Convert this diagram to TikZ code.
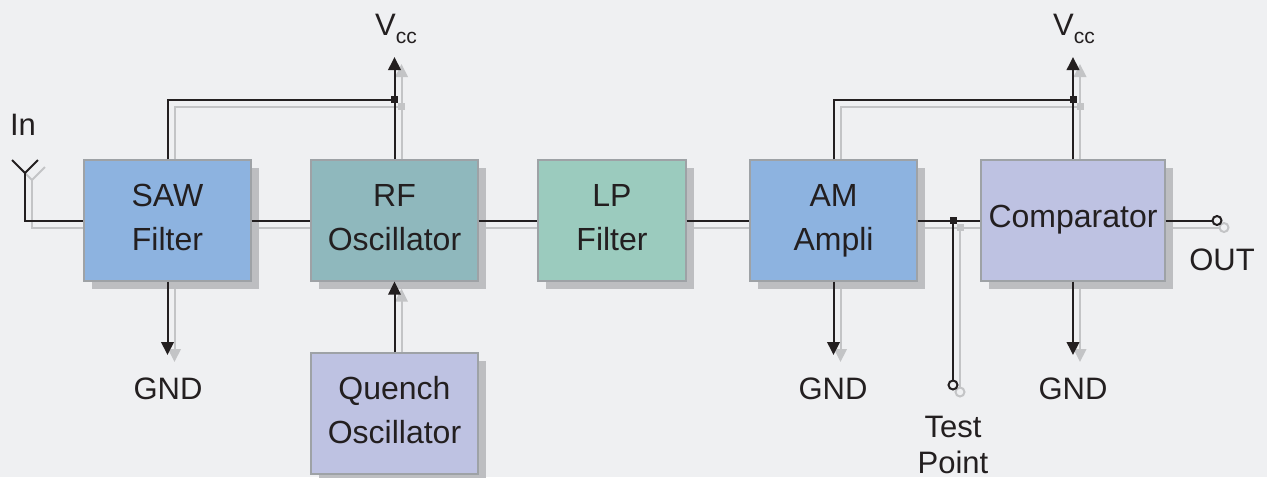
\documentclass[tikz,border=0pt]{standalone}
\usepackage{fontspec}
\setmainfont{Liberation Sans}
\usetikzlibrary{arrows.meta,shadows,backgrounds}
\definecolor{bg}{HTML}{EFF0F2}
\definecolor{sawblue}{HTML}{8DB3E0}
\definecolor{rfteal}{HTML}{8FB8BD}
\definecolor{lpgreen}{HTML}{9BCBBE}
\definecolor{lavender}{HTML}{BEC2E2}
\definecolor{boxedge}{HTML}{9EA2A6}
\definecolor{boxshadow}{HTML}{BDBEC1}
\definecolor{wireblack}{HTML}{231F20}
\definecolor{wiregray}{HTML}{C3C4C6}
\tikzset{
  blk/.style={draw=boxedge, line width=1.2pt, inner sep=0pt, minimum height=121pt,
    drop shadow={shadow xshift=8pt, shadow yshift=-8pt, fill=boxshadow, opacity=1}},
  btxt/.style={anchor=base, inner sep=0pt, text=wireblack, font=\fontsize{32}{43}\selectfont},
  lbl/.style={anchor=base, inner sep=0pt, text=wireblack, font=\fontsize{31}{36}\selectfont},
}
\newcommand{\wires}[1]{%
  \begin{scope}[line width=2pt, draw=#1, fill=#1,
      tip/.style={-{Triangle[width=12.5pt,length=13pt]}},
      jsq/.style={fill=#1, draw=none, minimum size=7pt, inner sep=0pt, rectangle},
      term/.style={circle, draw=#1, fill=bg, line width=2pt, minimum size=9pt, inner sep=0pt}]
    % antenna
    \draw (antl) -- (antj) -- (antr);
    \draw (antj) -- (antj |- saw.west) -- (saw.west);
    % main chain
    \draw (saw.east) -- (rf.west);
    \draw (rf.east) -- (lp.west);
    \draw (lp.east) -- (am.west);
    \draw (am.east) -- (comp.west);
    % supply lines
    \draw (saw.north) -- (saw.north |- j1) -- (j1);
    \draw[tip] (rf.north) -- (vcctipa);
    \node[jsq] at (j1) {};
    \draw (am.north) -- (am.north |- j2) -- (j2);
    \draw[tip] (comp.north) -- (vcctipb);
    \node[jsq] at (j2) {};
    % ground lines
    \draw[tip] (saw.south) -- (gndtipa);
    \draw[tip] (am.south) -- (gndtipb);
    \draw[tip] (comp.south) -- (gndtipc);
    % quench
    \draw[tip] (quench.north) -- (rf.south);
    % test point
    \node[term] (tpc) at (tpcpos) {};
    \draw (tpj) -- (tpc);
    \node[jsq] at (tpj) {};
    % out
    \node[term] (outc) at (outpos) {};
    \draw (comp.east) -- (outc);
  \end{scope}}
\begin{document}
\begin{tikzpicture}[x=1pt,y=-1pt]
\useasboundingbox (0,0) rectangle (1267,477);
% blocks
\node[blk, fill=sawblue, minimum width=167pt] (saw) at (167.5,220.5) {};
\node[blk, fill=rfteal, minimum width=167pt] (rf) at (394.5,220.5) {};
\node[blk, fill=lpgreen, minimum width=148pt] (lp) at (612,220.5) {};
\node[blk, fill=sawblue, minimum width=167pt] (am) at (833.5,220.5) {};
\node[blk, fill=lavender, minimum width=184pt] (comp) at (1073,220.5) {};
\node[blk, fill=lavender, minimum width=167pt] (quench) at (394.5,413.5) {};
% block texts
\node[btxt] (sawa) at ([yshift=13.8pt]saw.center) {SAW};
\node[btxt] (sawb) at ([yshift=-30.2pt]saw.center) {Filter};
\node[btxt] (rfa) at ([yshift=13.8pt]rf.center) {RF};
\node[btxt] (rfb) at ([yshift=-30.2pt]rf.center) {Oscillator};
\node[btxt] (lpa) at ([yshift=13.8pt]lp.center) {LP};
\node[btxt] (lpb) at ([yshift=-30.2pt]lp.center) {Filter};
\node[btxt] (ama) at ([yshift=13.8pt]am.center) {AM};
\node[btxt] (amb) at ([yshift=-30.2pt]am.center) {Ampli};
\node[btxt] (compa) at ([yshift=-6.8pt]comp.center) {Comparator};
\node[btxt] (qa) at ([yshift=13.8pt]quench.center) {Quench};
\node[btxt] (qb) at ([yshift=-30.2pt]quench.center) {Oscillator};
% coordinates
\coordinate (antl) at (12,160);
\coordinate (antr) at (38,160);
\coordinate (antj) at (25,173);
\coordinate (j1) at (394.5,99.5);
\coordinate (vcctipa) at (394.5,57);
\coordinate (j2) at (1073,99.5);
\coordinate (vcctipb) at (1073,57);
\coordinate (gndtipa) at (167.5,355);
\coordinate (gndtipb) at (833.5,355);
\coordinate (gndtipc) at (1073,355);
\coordinate (tpj) at (953,220.5);
\coordinate (tpcpos) at (953,385);
\coordinate (outpos) at (1217,220.5);
% background and shadow wires
\begin{scope}[on background layer]
  \fill[bg] (0,0) rectangle (1267,477);
  \begin{scope}[transform canvas={shift={(7pt,-7pt)}}]
    \wires{wiregray}
  \end{scope}
\end{scope}
% black wires
\wires{wireblack}
% labels
\node[lbl] (inlbl) at (23,135) {In};
\node[lbl] (vcca) at (396,35) {V\raisebox{-8pt}{\fontsize{21}{21}\selectfont cc}};
\node[lbl] (vccb) at (1074,35) {V\raisebox{-8pt}{\fontsize{21}{21}\selectfont cc}};
\node[lbl] (gnda) at (168,399) {GND};
\node[lbl] (gndb) at (833,399) {GND};
\node[lbl] (gndc) at (1073,399) {GND};
\node[lbl] (tpa) at (953,437) {Test};
\node[lbl] (tpb) at (953,473) {Point};
\node[lbl] (outlbl) at (1222,270) {OUT};
\end{tikzpicture}
\end{document}
